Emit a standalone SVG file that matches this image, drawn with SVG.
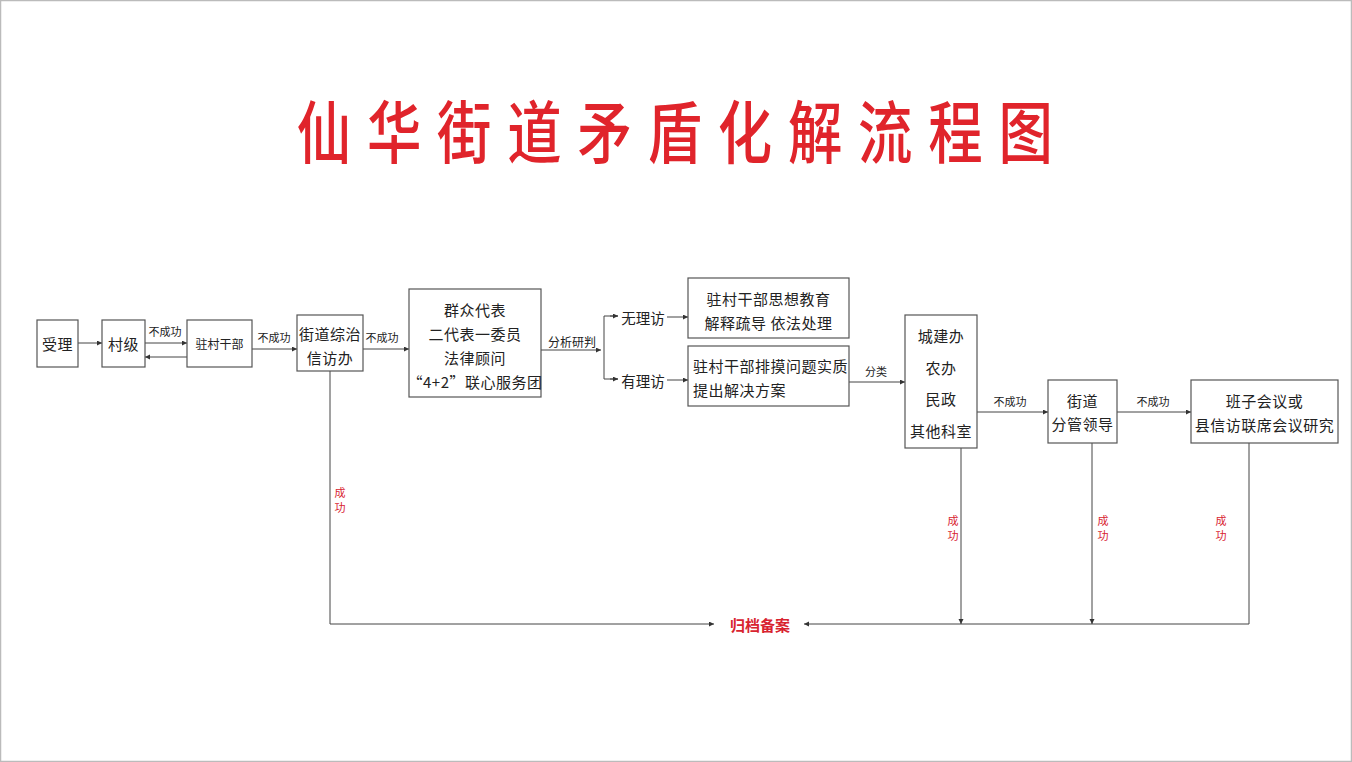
<svg xmlns="http://www.w3.org/2000/svg" width="1352" height="762" viewBox="0 0 1352 762">
<defs>
<marker id="ah" markerUnits="userSpaceOnUse" markerWidth="6" markerHeight="6" refX="5" refY="2.5" orient="auto">
<path d="M0,0 L5,2.5 L0,5 z" fill="#333"/>
</marker>
<style>
.box{fill:#fff;stroke:#555;stroke-width:1.2}
.t{font-family:"Noto Sans CJK SC","Liberation Sans",sans-serif;fill:#222;text-anchor:middle;dominant-baseline:central}
.m{font-size:15px;letter-spacing:0.5px}
.s{font-size:11px}
.r{font-family:"Noto Sans CJK SC","Liberation Sans",sans-serif;fill:#d8232f;text-anchor:middle;dominant-baseline:central;font-size:11px}
.ln{fill:none;stroke:#444;stroke-width:1}
.arr{fill:none;stroke:#444;stroke-width:1;marker-end:url(#ah)}
</style>
</defs>
<rect x="0.5" y="0.5" width="1351" height="761" fill="#fff" stroke="#bbb" stroke-width="1.5"/>
<text transform="scale(0.8,1)" x="371" y="158" font-family="Noto Sans CJK SC, sans-serif" font-size="68" font-weight="500" fill="#e0242b" textLength="945" lengthAdjust="spacing">仙华街道矛盾化解流程图</text>

<g id="connectors">
<line class="arr" x1="78" y1="343" x2="102" y2="343"/>
<line class="arr" x1="145" y1="343" x2="187" y2="343"/>
<text class="t s" x="165" y="331">不成功</text>
<line class="arr" x1="187" y1="357" x2="145" y2="357"/>
<line class="arr" x1="252" y1="349" x2="297" y2="349"/>
<text class="t s" x="274" y="337">不成功</text>
<line class="arr" x1="363" y1="349" x2="409" y2="349"/>
<text class="t s" x="382" y="337">不成功</text>
<line class="arr" x1="541" y1="350" x2="601" y2="350"/>
<text class="t" x="572" y="341" font-size="12">分析研判</text>
<polyline class="ln" points="618,316 604,316 604,379 618,379"/>
<line class="arr" x1="610" y1="316" x2="618" y2="316"/>
<line class="arr" x1="610" y1="379" x2="618" y2="379"/>
<text class="t" x="643" y="317" font-size="14.5">无理访</text>
<text class="t" x="643" y="380" font-size="14.5">有理访</text>
<line class="arr" x1="667" y1="317" x2="688" y2="317"/>
<line class="arr" x1="667" y1="380" x2="688" y2="380"/>
<line class="arr" x1="849" y1="382" x2="905" y2="382"/>
<text class="t s" x="876" y="371">分类</text>
<line class="arr" x1="977" y1="412" x2="1048" y2="412"/>
<text class="t s" x="1010" y="401">不成功</text>
<line class="arr" x1="1117" y1="412" x2="1191" y2="412"/>
<text class="t s" x="1153" y="401">不成功</text>
<polyline class="ln" points="330,371 330,624 714,624" marker-end="url(#ah)"/>
<polyline class="ln" points="1249,443 1249,624 804,624" marker-end="url(#ah)"/>
<line class="arr" x1="961" y1="448" x2="961" y2="624"/>
<line class="arr" x1="1092" y1="443" x2="1092" y2="624"/>
<text class="r" x="340" y="492">成</text>
<text class="r" x="340" y="507">功</text>
<text class="r" x="953" y="520">成</text>
<text class="r" x="953" y="535">功</text>
<text class="r" x="1103" y="520">成</text>
<text class="r" x="1103" y="535">功</text>
<text class="r" x="1221" y="520">成</text>
<text class="r" x="1221" y="535">功</text>
</g>

<g id="n-shouli"><rect class="box" x="37" y="320" width="41" height="47"/><text class="t m" x="57.5" y="343">受理</text></g>
<g id="n-cunji"><rect class="box" x="102" y="320" width="43" height="47"/><text class="t m" x="123.5" y="343">村级</text></g>
<g id="n-zhucun"><rect class="box" x="187" y="320" width="65" height="47"/><text class="t" x="219.5" y="343" font-size="12">驻村干部</text></g>
<g id="n-jiedao"><rect class="box" x="297" y="315" width="66" height="56"/><text class="t m" x="330" y="333">街道综治</text><text class="t m" x="330" y="357">信访办</text></g>
<g id="n-qunzhong"><rect class="box" x="409" y="289" width="132" height="108"/>
<text class="t m" x="475" y="309">群众代表</text>
<text class="t m" x="475" y="333">二代表一委员</text>
<text class="t m" x="475" y="357">法律顾问</text>
<text class="t m" x="475" y="381">“4+2”联心服务团</text></g>
<g id="n-wuli"><rect class="box" x="688" y="278" width="161" height="60"/><text class="t m" x="768.5" y="298" letter-spacing="1.5">驻村干部思想教育</text><text class="t m" x="768.5" y="322" letter-spacing="1.5">解释疏导 依法处理</text></g>
<g id="n-youli"><rect class="box" x="688" y="346" width="161" height="60"/><text class="t m" x="693" y="365" style="text-anchor:start">驻村干部排摸问题实质</text><text class="t m" x="693" y="389" style="text-anchor:start">提出解决方案</text></g>
<g id="n-keshi"><rect class="box" x="905" y="315" width="72" height="133"/>
<text class="t m" x="941" y="335">城建办</text>
<text class="t m" x="941" y="367">农办</text>
<text class="t m" x="941" y="398">民政</text>
<text class="t m" x="941" y="430">其他科室</text></g>
<g id="n-fenguan"><rect class="box" x="1048" y="380" width="69" height="63"/><text class="t m" x="1082.5" y="400">街道</text><text class="t m" x="1082.5" y="423">分管领导</text></g>
<g id="n-banzi"><rect class="box" x="1191" y="380" width="147" height="63"/><text class="t m" x="1264.5" y="400">班子会议或</text><text class="t m" x="1264.5" y="424">县信访联席会议研究</text></g>
<g id="n-guidang"><text x="760" y="624" font-family="Noto Sans CJK SC, sans-serif" font-size="15" font-weight="bold" fill="#d8232f" text-anchor="middle" dominant-baseline="central">归档备案</text></g>
</svg>
